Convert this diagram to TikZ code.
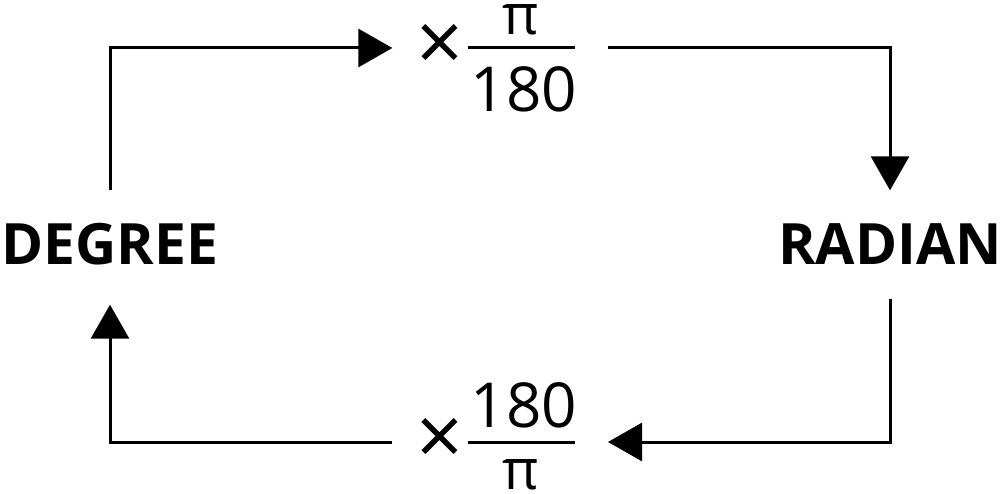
\documentclass[tikz,border=0pt]{standalone}
\usepackage{fontspec}
\setmainfont{Open Sans}
\usetikzlibrary{arrows.meta}
\begin{document}
\begin{tikzpicture}[x=1pt,y=-1pt,
  conn/.style={line width=3pt, -{Triangle[length=34pt,width=38pt]}},
  word/.style={font=\fontsize{57}{57}\selectfont\bfseries, inner sep=0pt, text height=41pt, text depth=0pt},
  num/.style={font=\fontsize{62}{62}\selectfont, inner sep=0pt, text height=44pt, text depth=0pt},
  pisym/.style={font=\fontsize{56}{56}\selectfont, inner sep=0pt, text height=30pt, text depth=0pt},
  timessym/.style={font=\fontsize{82}{82}\selectfont, inner sep=0pt},
  fracbar/.style={fill=black, minimum width=107pt, minimum height=3pt, inner sep=0pt, outer sep=0pt}]
\useasboundingbox (0,0) rectangle (1000,494);
% words
\node[word] (degree) at (110,244) {DEGREE};
\node[word] (radian) at (890,244) {RADIAN};
% top factor
\node[timessym] (times1) at (440,48) {×};
\node[fracbar] (bar1) at (521.5,48) {};
\node[pisym] (pi1) at (521,19.5) {π};
\node[num] (n1) at (524,90) {180};
% bottom factor
\node[timessym] (times2) at (440,442) {×};
\node[fracbar] (bar2) at (521.5,442) {};
\node[num] (n2) at (524,405) {180};
\node[pisym] (pi2) at (521,474.5) {π};
% connectors
\draw[conn, shorten <=33pt, shorten >=24pt] (degree.north) |- (times1.west);
\draw[conn, shorten <=33pt, shorten >=33pt] (bar1.east) -| (radian.north);
\draw[conn, shorten <=34pt, shorten >=33pt] (radian.south) |- (bar2.east);
\draw[conn, shorten <=24pt, shorten >=40pt] (times2.west) -| (degree.south);
\end{tikzpicture}
\end{document}
